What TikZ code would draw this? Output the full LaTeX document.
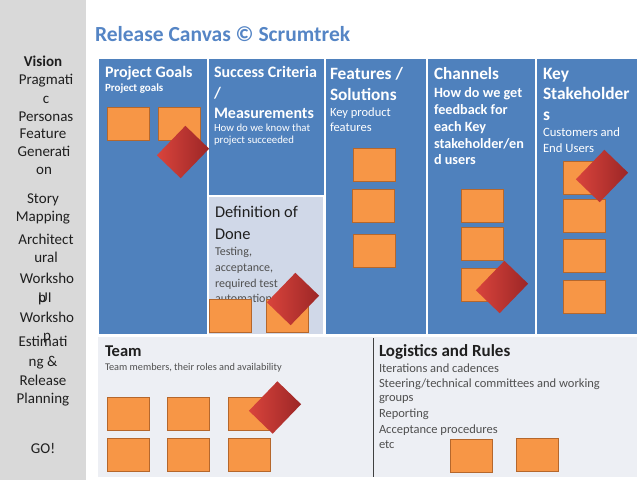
\documentclass[tikz,border=0pt]{standalone}
\usepackage{fontspec}
\setmainfont{Carlito}
\definecolor{panelblue}{HTML}{4F81BD}
\definecolor{titleblue}{HTML}{5585C5}
\definecolor{sidebg}{HTML}{D9D9D9}
\definecolor{dodbg}{HTML}{D0D8E8}
\definecolor{botbg}{HTML}{EDEFF4}
\definecolor{orfill}{HTML}{F79646}
\definecolor{ordraw}{HTML}{B5672C}
\definecolor{redlight}{HTML}{D9443C}
\definecolor{reddark}{HTML}{9C2626}
\definecolor{darktext}{HTML}{1F1F1F}
\definecolor{graytext}{HTML}{505050}
\newcommand{\fsz}[1]{\fontsize{#1}{#1}\selectfont}
\begin{document}
\begin{tikzpicture}[x=1pt,y=-1pt,
  lbl/.style={anchor=base west,inner sep=0pt,outer sep=0pt},
  side/.style={anchor=base,inner sep=0pt,font=\fsz{15},text=darktext},
  hdr/.style={lbl,text=white,font=\bfseries\fsz{#1}},
  wtxt/.style={lbl,text=white,font=\fsz{#1}},
  wbtxt/.style={lbl,text=white,font=\bfseries\fsz{#1}},
  obox/.style={draw=ordraw,fill=orfill,line width=0.8pt,minimum width=42pt,minimum height=33pt,inner sep=0pt},
  rbox/.style={rotate=-44,minimum width=33pt,minimum height=41pt,inner sep=0pt,left color=redlight,right color=reddark}]
\useasboundingbox (0,0) rectangle (640,480);
% sidebar
\fill[sidebg] (0,0) rectangle (86,480);
\node[side,font=\bfseries\fsz{15}] (s1) at (43,66) {Vision};
\node[side] (s2) at (46,84) {Pragmati};
\node[side] (s3) at (46,103) {c};
\node[side] (s4) at (46,121) {Personas};
\node[side] (s5) at (43,138) {Feature};
\node[side] (s6) at (44,156) {Generati};
\node[side] (s7) at (44,174) {on};
\node[side] (s8) at (43,203) {Story};
\node[side] (s9) at (43,221) {Mapping};
\node[side] (s10) at (46,244) {Architect};
\node[side] (s11) at (46,262) {ural};
\node[side] (s12) at (47,283) {Worksho};
\node[side] (s13) at (42,302) {p};
\node[side] (s14) at (45,302) {UI};
\node[side] (s15) at (47,322) {Worksho};
\node[side] (s16) at (47,340) {p};
\node[side] (s17) at (43,346) {Estimati};
\node[side] (s18) at (43,366) {ng \&};
\node[side] (s19) at (43,385) {Release};
\node[side] (s20) at (43,403) {Planning};
\node[side] (s21) at (43,453) {GO!};
% title
\node[lbl,text=titleblue,font=\bfseries\fsz{21.5}] (title) at (95,41) {Release Canvas © Scrumtrek};
% blue panel
\fill[panelblue] (99,59) rectangle (637,334);
\foreach \xx in {208,325,427,536} \draw[white,line width=1.5pt] (\xx,59) -- (\xx,334);
% definition of done box
\fill[dodbg] (208,196) rectangle (324,334);
\draw[white,line width=1.5pt] (208,334) -- (208,196) -- (324,196) -- (324,334);
% bottom panel
\fill[botbg] (98,337) rectangle (637,477);
\draw[black!75,line width=0.8pt] (373,338) -- (373,477);
% column 1
\node[hdr=16] (c1a) at (105,77) {Project Goals};
\node[wbtxt=11] (c1b) at (105,91) {Project goals};
% column 2
\node[hdr=16] (c2a) at (214,77) {Success Criteria};
\node[hdr=16] (c2b) at (214,98) {/};
\node[hdr=16] (c2c) at (214,118) {Measurements};
\node[wtxt=10.8] (c2d) at (214,131) {How do we know that};
\node[wtxt=10.8] (c2e) at (214,143) {project succeeded};
% column 3
\node[hdr=17.3] (c3a) at (330,79) {Features /};
\node[hdr=17.3] (c3b) at (330,100) {Solutions};
\node[wtxt=12.5] (c3c) at (330,116) {Key product};
\node[wtxt=12.5] (c3d) at (330,131) {features};
% column 4
\node[hdr=17.2] (c4a) at (434,79) {Channels};
\node[wbtxt=14.2] (c4b) at (434,97) {How do we get};
\node[wbtxt=14.2] (c4c) at (434,114) {feedback for};
\node[wbtxt=14.2] (c4d) at (434,131) {each Key};
\node[wbtxt=14.2] (c4e) at (434,148) {stakeholder/en};
\node[wbtxt=14.2] (c4f) at (434,164) {d users};
% column 5
\node[hdr=17.4] (c5a) at (543,79) {Key};
\node[hdr=17.4] (c5b) at (543,99) {Stakeholder};
\node[hdr=17.4] (c5c) at (543,120) {s};
\node[wtxt=12.7] (c5d) at (543,136) {Customers and};
\node[wtxt=12.7] (c5e) at (543,152) {End Users};
% definition of done
\node[lbl,text=darktext,font=\fsz{16.4}] (d1) at (215,217) {Definition of};
\node[lbl,text=darktext,font=\fsz{16.4}] (d2) at (215,239) {Done};
\node[lbl,text=graytext,font=\fsz{12}] (d3) at (215,255) {Testing,};
\node[lbl,text=graytext,font=\fsz{12}] (d4) at (215,271) {acceptance,};
\node[lbl,text=graytext,font=\fsz{12}] (d5) at (215,287) {required test};
\node[lbl,text=graytext,font=\fsz{12}] (d6) at (215,302) {automation};
% team
\node[lbl,text=darktext,font=\bfseries\fsz{16.5}] (t1) at (105,356) {Team};
\node[lbl,text=graytext,font=\fsz{10.3}] (t2) at (105,370) {Team members, their roles and availability};
% logistics
\node[lbl,text=darktext,font=\bfseries\fsz{17}] (l1) at (379,356) {Logistics and Rules};
\node[lbl,text=graytext,font=\fsz{12.5}] (l2) at (379,372) {Iterations and cadences};
\node[lbl,text=graytext,font=\fsz{12.5}] (l3) at (379,387) {Steering/technical committees and working};
\node[lbl,text=graytext,font=\fsz{12.5}] (l4) at (379,401) {groups};
\node[lbl,text=graytext,font=\fsz{12.5}] (l5) at (379,417) {Reporting};
\node[lbl,text=graytext,font=\fsz{12.5}] (l6) at (379,433) {Acceptance procedures};
\node[lbl,text=graytext,font=\fsz{12.5}] (l7) at (379,448) {etc};
% orange boxes
\node[obox] (pg1) at (128,123.5) {};
\node[obox] (pg2) at (179,123.5) {};
\node[obox] (f1) at (374,164.5) {};
\node[obox] (f2) at (373,205.5) {};
\node[obox] (f3) at (374,250.5) {};
\node[obox] (ch1) at (482,206) {};
\node[obox] (ch2) at (482,244) {};
\node[obox] (ch3) at (482,284.5) {};
\node[obox] (ks1) at (584,178) {};
\node[obox] (ks2) at (584,216) {};
\node[obox] (ks3) at (584,256) {};
\node[obox] (ks4) at (584,297) {};
\node[obox] (dd1) at (230.5,316) {};
\node[obox] (dd2) at (287,316) {};
\node[obox] (tm1) at (128.5,414) {};
\node[obox] (tm2) at (188.5,414) {};
\node[obox] (tm3) at (249.5,414) {};
\node[obox] (tm4) at (128.5,454.5) {};
\node[obox] (tm5) at (188.5,454.5) {};
\node[obox] (tm6) at (249.5,454.5) {};
\node[obox] (lg1) at (471.5,455.5) {};
\node[obox] (lg2) at (537,454.5) {};
% red diamonds
\node[rbox] (r1) at (183,152) {};
\node[rbox] (r2) at (602,176) {};
\node[rbox] (r3) at (502,287) {};
\node[rbox] (r4) at (293,299) {};
\node[rbox] (r5) at (275,407.5) {};
\end{tikzpicture}
\end{document}
